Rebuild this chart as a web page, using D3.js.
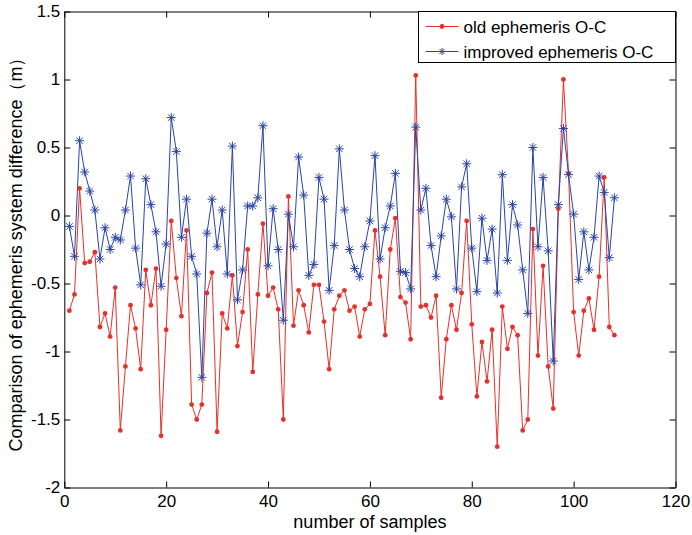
<!DOCTYPE html>
<html>
<head>
<meta charset="utf-8">
<script src="https://cdn.jsdelivr.net/npm/d3@7.9.0/dist/d3.min.js"></script>
<style>
  body { margin: 0; background: #fff; }
  text { font-family: "Liberation Sans", Arial, sans-serif; }
</style>
</head>
<body>
<svg id="chart"></svg>
<script>
// old ephemeris O-C (red), samples 1..108
const oldOC = [
    -0.70, -0.58, 0.20, -0.35, -0.34, -0.27, -0.82, -0.72, -0.89, -0.53,
    -1.58, -1.11, -0.66, -0.83, -1.13, -0.40, -0.66, -0.39, -1.62, -0.84,
    -0.04, -0.46, -0.74, -0.11, -1.39, -1.50, -1.39, -0.57, -0.42, -1.59,
    -0.72, -0.83, -0.44, -0.96, -0.71, -0.25, -1.15, -0.58, -0.06, -0.59,
    -0.53, -0.69, -1.50, 0.14, -0.81, -0.55, -0.66, -0.86, -0.51, -0.51,
    -0.78, -1.13, -0.69, -0.59, -0.55, -0.70, -0.67, -0.89, -0.69, -0.65,
    -0.11, -0.45, -0.88, -0.25, -0.02, -0.60, -0.64, -0.91, 1.03, -0.67,
    -0.66, -0.75, -0.59, -1.34, -0.91, -0.66, -0.84, -0.57, -0.04, -0.80,
    -1.33, -0.93, -1.22, -0.84, -1.70, -0.67, -0.98, -0.82, -0.88, -1.58,
    -1.50, -0.10, -1.03, -0.37, -1.11, -1.42, 0.05, 1.00, 0.31, -0.71,
    -1.03, -0.70, -0.61, -0.84, -0.45, 0.28, -0.82, -0.88
];

// improved ephemeris O-C (blue)
const improvedOC = [
    -0.08, -0.30, 0.55, 0.32, 0.18, 0.04, -0.32, -0.09, -0.25, -0.16,
    -0.18, 0.04, 0.29, -0.24, -0.51, 0.27, 0.08, -0.12, -0.52, -0.21,
    0.72, 0.47, -0.16, 0.12, -0.30, -0.43, -1.19, -0.13, 0.12, -0.23,
    0.04, -0.43, 0.51, -0.62, -0.40, 0.07, 0.07, 0.13, 0.66, -0.37,
    0.05, -0.25, -0.77, 0.01, -0.23, 0.43, 0.15, -0.44, -0.36, 0.28,
    0.12, -0.55, -0.22, 0.49, 0.04, -0.25, -0.39, -0.45, -0.23, -0.04,
    0.44, -0.32, -0.09, 0.07, 0.31, -0.41, -0.42, -0.54, 0.65, 0.04,
    0.20, -0.22, -0.45, -0.15, 0.12, -0.01, -0.54, 0.21, 0.38, -0.24,
    -0.56, -0.02, -0.33, -0.10, -0.57, 0.30, -0.33, 0.08, -0.07, -0.40,
    -0.72, 0.50, -0.23, 0.28, -0.26, -1.07, 0.08, 0.64, 0.30, 0.01,
    -0.47, -0.12, -0.40, -0.16, 0.29, 0.17, -0.31, 0.13
];

const xTicks = [0, 20, 40, 60, 80, 100, 120];
const yTicks = [-2, -1.5, -1, -0.5, 0, 0.5, 1, 1.5];
const legendLabels = ["old ephemeris O-C", "improved ephemeris O-C"];

const W = 692, H = 535;
const margin = { top: 11.5, right: 16.5, bottom: 47.5, left: 64.3 },
      width = W - margin.left - margin.right,
      height = H - margin.top - margin.bottom;

const red = "#e8302a", blue = "#2a44a8";

const svgRoot = d3.select("#chart").attr("width", W).attr("height", H);
const svg = svgRoot.append("g")
    .attr("transform", `translate(${margin.left},${margin.top})`);

const x = d3.scaleLinear().domain([0, 120]).range([0, width]);
const y = d3.scaleLinear().domain([-2, 1.5]).range([height, 0]);

const tickLen = 6;
const fmt = d => String(d);

// axes (MATLAB style inward ticks on all four sides)
const xAxisB = svg.append("g")
    .attr("transform", `translate(0,${height})`)
    .call(d3.axisBottom(x).tickValues(xTicks).tickFormat(fmt)
        .tickSizeInner(-tickLen).tickSizeOuter(0).tickPadding(7));
const xAxisT = svg.append("g")
    .call(d3.axisTop(x).tickValues(xTicks).tickFormat("")
        .tickSizeInner(-tickLen).tickSizeOuter(0));
const yAxisL = svg.append("g")
    .call(d3.axisLeft(y).tickValues(yTicks).tickFormat(fmt)
        .tickSizeInner(-tickLen).tickSizeOuter(0).tickPadding(4));
const yAxisR = svg.append("g")
    .attr("transform", `translate(${width},0)`)
    .call(d3.axisRight(y).tickValues(yTicks).tickFormat("")
        .tickSizeInner(-tickLen).tickSizeOuter(0));

[xAxisB, xAxisT, yAxisL, yAxisR].forEach(a => {
    a.selectAll("path.domain").attr("stroke", "#000").attr("stroke-width", 1);
    a.selectAll(".tick line").attr("stroke", "#000");
    a.selectAll(".tick text").style("font-size", "17px").attr("fill", "#000");
});

// lines
const line = d3.line()
    .x((d, i) => x(i + 1))
    .y(d => y(d));

svg.append("path")
    .datum(oldOC)
    .attr("fill", "none")
    .attr("stroke", red)
    .attr("stroke-width", 1)
    .attr("d", line);

svg.append("path")
    .datum(improvedOC)
    .attr("fill", "none")
    .attr("stroke", blue)
    .attr("stroke-width", 1)
    .attr("d", line);

// markers
svg.append("g").selectAll("circle")
    .data(oldOC)
    .enter()
    .append("circle")
    .attr("cx", (d, i) => x(i + 1))
    .attr("cy", d => y(d))
    .attr("r", 2.4)
    .attr("fill", red);

const star = (g, s) => {
    const k = s * 0.72;
    g.append("path")
        .attr("d", `M${-s},0H${s}M0,${-s}V${s}M${-k},${-k}L${k},${k}M${-k},${k}L${k},${-k}`)
        .attr("stroke", blue)
        .attr("stroke-width", 1)
        .attr("fill", "none");
};

svg.append("g").selectAll("g")
    .data(improvedOC)
    .enter()
    .append("g")
    .attr("transform", (d, i) => `translate(${x(i + 1)},${y(d)})`)
    .each(function() { star(d3.select(this), 4.5); });

// axis labels
svgRoot.append("text")
    .attr("x", margin.left + width / 2)
    .attr("y", 528)
    .attr("text-anchor", "middle")
    .style("font-size", "18px")
    .text("number of samples");

svgRoot.append("text")
    .attr("transform", "rotate(-90)")
    .attr("x", -250)
    .attr("y", 22)
    .attr("text-anchor", "middle")
    .style("font-size", "18px")
    .text("Comparison of ephemeris system difference（m）");

// legend
const legend = svgRoot.append("g")
    .attr("transform", `translate(418.5, ${margin.top})`);

legend.append("rect")
    .attr("width", 257)
    .attr("height", 51)
    .attr("fill", "#fff")
    .attr("stroke", "#000")
    .attr("stroke-width", 1);

legendLabels.forEach((label, i) => {
    const yy = 15 + i * 25;
    const c = i === 0 ? red : blue;
    legend.append("line")
        .attr("x1", 7).attr("x2", 40)
        .attr("y1", yy).attr("y2", yy)
        .attr("stroke", c).attr("stroke-width", 1);
    if (i === 0) {
        legend.append("circle").attr("cx", 23.5).attr("cy", yy).attr("r", 2.4).attr("fill", red);
    } else {
        star(legend.append("g").attr("transform", `translate(23.5,${yy})`), 3.5);
    }
    legend.append("text")
        .attr("x", 45)
        .attr("y", yy + 6)
        .style("font-size", "17px")
        .text(label);
});
</script>
</body>
</html>
